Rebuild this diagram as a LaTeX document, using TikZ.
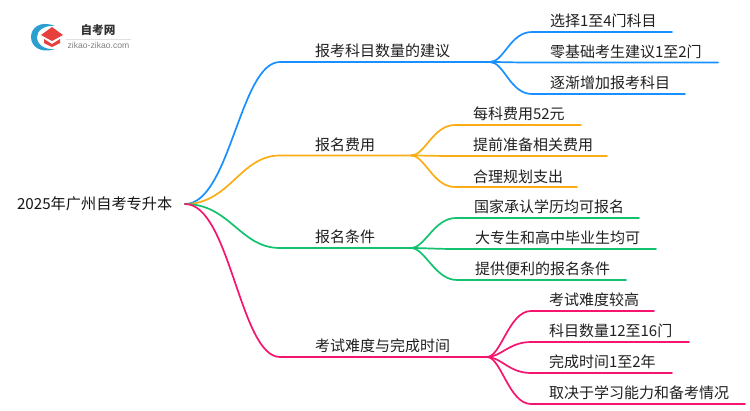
\documentclass[tikz,border=0pt]{standalone}
\usepackage{fontspec}
\setmainfont{Noto Sans CJK SC}
\newfontfamily\latinsans{Liberation Sans}
\usetikzlibrary{calc}
\definecolor{cblue}{HTML}{1890FF}
\definecolor{corange}{HTML}{FAAD14}
\definecolor{cgreen}{HTML}{13C26F}
\definecolor{cpink}{HTML}{F5146E}
\definecolor{logoblue}{HTML}{2A9FD0}
\definecolor{logored}{HTML}{E8403C}
\tikzset{
  px/.style={x=1pt,y=-1pt},
  label/.style={anchor=south west,inner xsep=0pt,inner ysep=3.8pt,align=left,font=\fontsize{15}{15}\selectfont,text=black!88,outer sep=0pt},
  rootbox/.style={anchor=west,inner xsep=0pt,inner ysep=2pt,align=left,font=\fontsize{15.2}{16}\selectfont,text=black!92,outer sep=0pt},
  conn/.style={line width=1.7pt,line cap=round},
}
% \trunk{from}{to}{colour}: S-curve to a branch, then its straight underline
\newcommand{\trunk}[3]{\draw[conn,#3] (#1) .. controls ($(#1)+(45,0)$) and ($(#2.south west)+(-75,0)$) .. ($(#2.south west)+(-35,0)$) -- (#2.south east);}
\newcommand{\twig}[4]{\draw[conn,#3] (#1.south east) .. controls ($(#1.south east)+(14,0)$) and ($(#2.south west)+(-#4-22,0)$) .. ($(#2.south west)+(-#4,0)$) -- (#2.south east);}
\begin{document}
\begin{tikzpicture}[px]
\useasboundingbox (0,0) rectangle (750,410);
% logo
\fill[logoblue] (55,26) .. controls (40,20) and (31,28) .. (31,37) .. controls (31,46) and (40,54) .. (55,49) .. controls (45,50) and (37,45) .. (37,37) .. controls (37,30) and (45,25) .. (55,26) -- cycle;
\fill[logored] (52,27) -- (63,35) -- (52,41) -- (41,35) -- cycle;
\fill[logored] (44,39) -- (52,44) -- (60,39) -- (60,43) -- (52,47) -- (44,43) -- cycle;
\node[inner sep=0pt,font=\bfseries\fontsize{11.6}{12}\selectfont,text=black!80] (logotitle) at (98,30.5) {自考网};
\node[inner sep=0pt,font=\latinsans\fontsize{8.6}{9}\selectfont,text=black!50] (logosub) at (98.5,45) {zikao-zikao.com};
\draw[black!12,line width=0.6pt] (66,39) -- (131,39);
% root
\node[rootbox,text width=168pt] (root) at (17,204) {2025年广州自考专升本};
% branches
\node[label,text width=175pt] (b1) at (315,62) {报考科目数量的建议};
\node[label,text width=96pt] (b2) at (315,155.5) {报名费用};
\node[label,text width=96pt] (b3) at (315,248) {报名条件};
\node[label,text width=172pt] (b4) at (315,357) {考试难度与完成时间};
% leaves
\node[label,text width=122pt] (a1) at (550,32) {选择1至4门科目};
\node[label,text width=168pt] (a2) at (550,62.5) {零基础考生建议1至2门};
\node[label,text width=135pt] (a3) at (550,94) {逐渐增加报考科目};
\node[label,text width=108pt] (c1) at (473,125) {每科费用52元};
\node[label,text width=134pt] (c2) at (473,156) {提前准备相关费用};
\node[label,text width=104pt] (c3) at (473,187) {合理规划支出};
\node[label,text width=165pt] (d1) at (474,218) {国家承认学历均可报名};
\node[label,text width=181pt] (d2) at (475,249) {大专生和高中毕业生均可};
\node[label,text width=151pt] (d3) at (475,280) {提供便利的报名条件};
\node[label,text width=105pt] (e1) at (549,311) {考试难度较高};
\node[label,text width=140pt] (e2) at (549,342) {科目数量12至16门};
\node[label,text width=123pt] (e3) at (549,373) {完成时间1至2年};
\node[label,text width=196pt] (e4) at (549,404) {取决于学习能力和备考情况};
% connectors
\trunk{root.east}{b1}{cblue}
\trunk{root.east}{b2}{corange}
\trunk{root.east}{b3}{cgreen}
\trunk{root.east}{b4}{cpink}
\twig{b1}{a1}{cblue}{18}
\twig{b1}{a2}{cblue}{18}
\twig{b1}{a3}{cblue}{18}
\twig{b2}{c1}{corange}{18}
\twig{b2}{c2}{corange}{18}
\twig{b2}{c3}{corange}{18}
\twig{b3}{d1}{cgreen}{18}
\twig{b3}{d2}{cgreen}{18}
\twig{b3}{d3}{cgreen}{18}
\twig{b4}{e1}{cpink}{18}
\twig{b4}{e2}{cpink}{18}
\twig{b4}{e3}{cpink}{18}
\twig{b4}{e4}{cpink}{18}
\end{tikzpicture}
\end{document}
